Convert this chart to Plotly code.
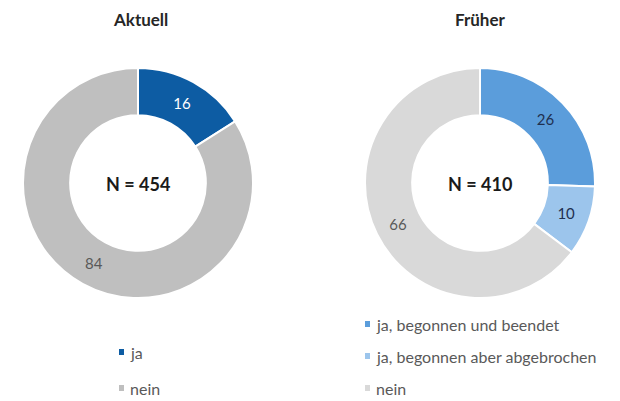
import plotly.graph_objects as go

# Data
left_title = "Aktuell"
left_labels = ["ja", "nein"]
left_values = [16, 84]
left_n = "N = 454"

right_title = "Früher"
right_labels = ["ja, begonnen und beendet", "ja, begonnen aber abgebrochen", "nein"]
right_values = [26, 10, 66]
right_n = "N = 410"

# Styles
left_colors = ["#0D5CA3", "#BFBFBF"]
left_textcolors = ["#FFFFFF", "#595959"]
right_colors = ["#5B9DDB", "#9CC5EC", "#D9D9D9"]
right_textcolors = ["#1F3050", "#1F3050", "#595959"]

W, H = 620, 401
FONT = "Lato, 'Open Sans', sans-serif"

def dom(cx, cy, r):
    return dict(x=[(cx - r) / W, (cx + r) / W],
                y=[(H - cy - r) / H, (H - cy + r) / H])

fig = go.Figure()
fig.add_trace(go.Pie(
    labels=left_labels, values=left_values, hole=0.59, sort=False,
    direction="clockwise", rotation=0, domain=dom(138, 183, 115),
    marker=dict(colors=left_colors, line=dict(color="white", width=2)),
    textinfo="value", textposition="inside", insidetextorientation="horizontal",
    textfont=dict(family=FONT, size=15, color=left_textcolors),
    showlegend=False, hoverinfo="label+value",
))
fig.add_trace(go.Pie(
    labels=right_labels, values=right_values, hole=0.59, sort=False,
    direction="clockwise", rotation=0, domain=dom(480, 183, 115),
    marker=dict(colors=right_colors, line=dict(color="white", width=2)),
    textinfo="value", textposition="inside", insidetextorientation="horizontal",
    textfont=dict(family=FONT, size=15, color=right_textcolors),
    showlegend=False, hoverinfo="label+value",
))

def px_x(x):
    return x / W

def px_y(y):
    return 1 - y / H

annotations = []
shapes = []
# Titles
for txt, cx in [(left_title, 140), (right_title, 480)]:
    annotations.append(dict(text=f"<b>{txt}</b>", x=px_x(cx), y=px_y(19), xref="paper", yref="paper",
                            showarrow=False, font=dict(family=FONT, size=17, color="#262626"),
                            xanchor="center", yanchor="middle"))
# Center N labels
for txt, cx in [(left_n, 138), (right_n, 480)]:
    annotations.append(dict(text=f"<b>{txt}</b>", x=px_x(cx), y=px_y(184), xref="paper", yref="paper",
                            showarrow=False, font=dict(family=FONT, size=18, color="#1A1A1A"),
                            xanchor="center", yanchor="middle"))

# Custom legends
def add_legend(labels, colors, x0, ys):
    for lab, col, y in zip(labels, colors, ys):
        shapes.append(dict(type="rect", xref="paper", yref="paper",
                           x0=px_x(x0), x1=px_x(x0 + 5), y0=px_y(y + 3), y1=px_y(y - 3),
                           fillcolor=col, line=dict(width=0)))
        annotations.append(dict(text=lab, x=px_x(x0 + 9), y=px_y(y), xref="paper", yref="paper",
                                showarrow=False, font=dict(family=FONT, size=16, color="#595959"),
                                xanchor="left", yanchor="middle"))

add_legend(left_labels, left_colors, 119, [352, 388])
add_legend(right_labels, right_colors, 365, [324, 356, 388])

fig.update_layout(
    width=W, height=H, margin=dict(l=0, r=0, t=0, b=0),
    paper_bgcolor="white", plot_bgcolor="white",
    annotations=annotations, shapes=shapes,
    font=dict(family=FONT),
)

fig.write_html("out.html")
